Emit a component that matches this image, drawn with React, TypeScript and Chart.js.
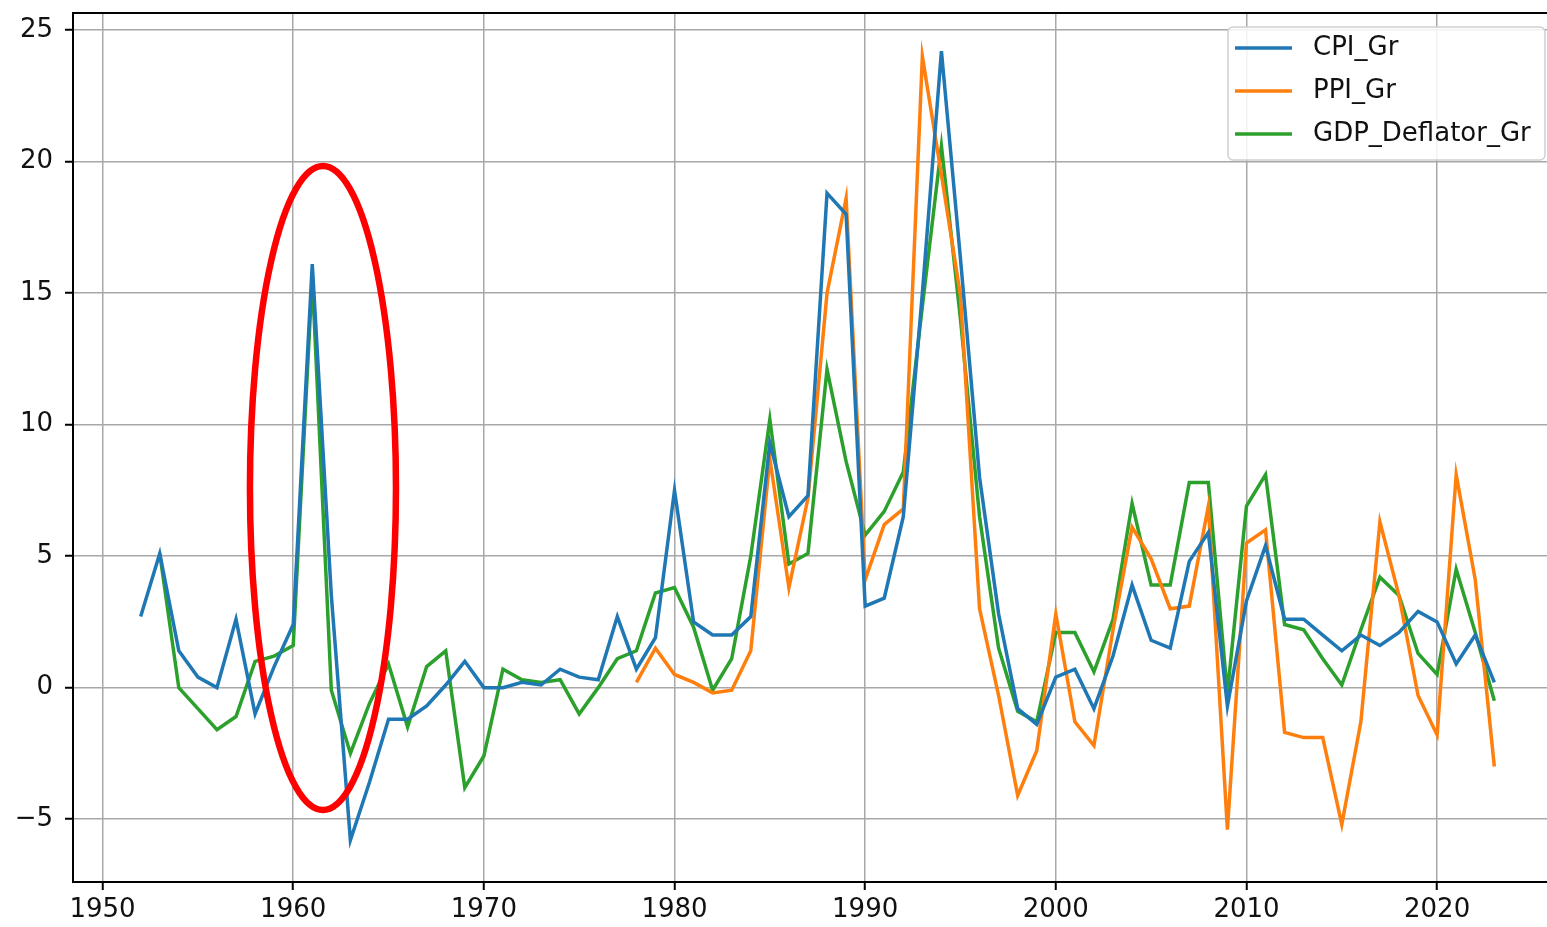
import React, { useEffect, useRef } from 'react';
import { Chart, registerables } from 'chart.js';

Chart.register(...registerables);

// ---------- data ----------
const YEARS = [
  1952, 1953, 1954, 1955, 1956, 1957, 1958, 1959, 1960, 1961,
  1962, 1963, 1964, 1965, 1966, 1967, 1968, 1969, 1970, 1971,
  1972, 1973, 1974, 1975, 1976, 1977, 1978, 1979, 1980, 1981,
  1982, 1983, 1984, 1985, 1986, 1987, 1988, 1989, 1990, 1991,
  1992, 1993, 1994, 1995, 1996, 1997, 1998, 1999, 2000, 2001,
  2002, 2003, 2004, 2005, 2006, 2007, 2008, 2009, 2010, 2011,
  2012, 2013, 2014, 2015, 2016, 2017, 2018, 2019, 2020, 2021,
  2022, 2023,
];

const CPI_GR = [
  2.7, 5.1, 1.4, 0.4, 0.0, 2.6, -1.0, 0.8, 2.4, 16.1,
  3.5, -5.8, -3.6, -1.2, -1.2, -0.7, 0.1, 1.0, 0.0, 0.0,
  0.2, 0.1, 0.7, 0.4, 0.3, 2.7, 0.7, 1.9, 7.5, 2.5,
  2.0, 2.0, 2.7, 9.3, 6.5, 7.3, 18.8, 18.0, 3.1, 3.4,
  6.5, 15.0, 24.2, 16.3, 8.0, 2.8, -0.8, -1.4, 0.4, 0.7,
  -0.8, 1.2, 3.9, 1.8, 1.5, 4.8, 5.9, -0.7, 3.3, 5.4,
  2.6, 2.6, 2.0, 1.4, 2.0, 1.6, 2.1, 2.9, 2.5, 0.9,
  2.0, 0.2,
];

const PPI_GR = [
  null, null, null, null, null, null, null, null, null, null,
  null, null, null, null, null, null, null, null, null, null,
  null, null, null, null, null, null, 0.2, 1.5, 0.5, 0.2,
  -0.2, -0.1, 1.4, 8.7, 3.8, 7.2, 15.0, 18.6, 4.1, 6.2,
  6.8, 24.0, 19.5, 14.9, 3.0, -0.3, -4.1, -2.4, 2.8, -1.3,
  -2.2, 2.2, 6.1, 4.9, 3.0, 3.1, 6.9, -5.4, 5.5, 6.0,
  -1.7, -1.9, -1.9, -5.2, -1.3, 6.3, 3.5, -0.3, -1.8, 8.1,
  4.1, -3.0,
];

const GDP_DEFLATOR_GR = [
  null, 5.1, 0.0, -0.8, -1.6, -1.1, 1.0, 1.2, 1.6, 15.6,
  -0.1, -2.5, -0.6, 0.9, -1.5, 0.8, 1.4, -3.8, -2.6, 0.7,
  0.3, 0.2, 0.3, -1.0, 0.0, 1.1, 1.4, 3.6, 3.8, 2.3,
  -0.1, 1.1, 5.0, 10.2, 4.7, 5.1, 12.1, 8.6, 5.8, 6.7,
  8.2, 14.5, 20.6, 14.0, 6.5, 1.5, -0.9, -1.3, 2.1, 2.1,
  0.6, 2.6, 7.0, 3.9, 3.9, 7.8, 7.8, -0.2, 6.9, 8.1,
  2.4, 2.2, 1.1, 0.1, 2.2, 4.2, 3.5, 1.3, 0.5, 4.5,
  2.1, -0.5,
];

const SERIES_NAMES = ['CPI_Gr', 'PPI_Gr', 'GDP_Deflator_Gr'];
const SERIES_COLORS = ['#1f77b4', '#ff7f0e', '#2ca02c'];

const X_TICKS = [1950, 1960, 1970, 1980, 1990, 2000, 2010, 2020];
const Y_TICKS = [-5, 0, 5, 10, 15, 20, 25];
const X_MIN = 1948.45;
const X_MAX = 2026.55;
const Y_MIN = -7.39;
const Y_MAX = 25.65;

// red highlight ellipse (data units)
const ELLIPSE_CENTER_YEAR = 1961.56;
const ELLIPSE_CENTER_VALUE = 7.59;
const ELLIPSE_RADIUS_YEARS = 3.83;
const ELLIPSE_RADIUS_VALUE = 12.24;

const FONT = "'DejaVu Sans', sans-serif";

const toPoints = (vals: (number | null)[]) =>
  YEARS.map((yr, i) => ({ x: yr, y: vals[i] }));

const spinesPlugin = {
  id: 'spines',
  afterDatasetsDraw(chart: any) {
    const { ctx, chartArea } = chart;
    ctx.save();
    ctx.strokeStyle = '#000';
    ctx.lineWidth = 2;
    ctx.strokeRect(chartArea.left, chartArea.top, chartArea.right - chartArea.left, chartArea.bottom - chartArea.top);
    ctx.restore();
  },
};

const legendPlugin = {
  id: 'mplLegend',
  afterDraw(chart: any) {
    const { ctx, chartArea } = chart;
    const w = 317;
    const h = 133;
    const x = chartArea.right - 17 - w;
    const y = chartArea.top + 14;
    ctx.save();
    ctx.beginPath();
    ctx.roundRect(x, y, w, h, 5);
    ctx.fillStyle = 'rgba(255,255,255,0.85)';
    ctx.fill();
    ctx.strokeStyle = '#d0d0d0';
    ctx.lineWidth = 1.5;
    ctx.stroke();
    chart.data.datasets.forEach((ds: any, i: number) => {
      const cy = y + 21 + i * 43;
      ctx.beginPath();
      ctx.moveTo(x + 7, cy);
      ctx.lineTo(x + 64, cy);
      ctx.strokeStyle = ds.borderColor;
      ctx.lineWidth = 3.5;
      ctx.stroke();
      ctx.fillStyle = '#111';
      ctx.font = `26px ${FONT}`;
      ctx.textBaseline = 'middle';
      ctx.textAlign = 'left';
      ctx.fillText(ds.label, x + 85, cy);
    });
    ctx.restore();
  },
};

const ellipsePlugin = {
  id: 'highlightEllipse',
  afterDraw(chart: any) {
    const { ctx } = chart;
    const xs = chart.scales.x;
    const ys = chart.scales.y;
    const cx = xs.getPixelForValue(ELLIPSE_CENTER_YEAR);
    const cy = ys.getPixelForValue(ELLIPSE_CENTER_VALUE);
    const rx = Math.abs(xs.getPixelForValue(ELLIPSE_CENTER_YEAR + ELLIPSE_RADIUS_YEARS) - cx);
    const ry = Math.abs(ys.getPixelForValue(ELLIPSE_CENTER_VALUE + ELLIPSE_RADIUS_VALUE) - cy);
    ctx.save();
    ctx.beginPath();
    ctx.ellipse(cx, cy, rx, ry, 0, 0, Math.PI * 2);
    ctx.strokeStyle = '#ff0000';
    ctx.lineWidth = 6.5;
    ctx.stroke();
    ctx.restore();
  },
};

export default function App() {
  const canvasRef = useRef<HTMLCanvasElement | null>(null);

  useEffect(() => {
    if (!canvasRef.current) return;
    Chart.defaults.font.family = FONT;
    Chart.defaults.color = '#111';
    const seriesValues = [CPI_GR, PPI_GR, GDP_DEFLATOR_GR];
    const chart = new Chart(canvasRef.current, {
      type: 'line',
      data: {
        datasets: SERIES_NAMES.map((name, i) => ({
          label: name,
          data: toPoints(seriesValues[i]),
          borderColor: SERIES_COLORS[i],
          backgroundColor: SERIES_COLORS[i],
          borderWidth: 3.5,
          pointRadius: 0,
          tension: 0,
          spanGaps: false,
        })),
      },
      options: {
        responsive: false,
        animation: false,
        layout: { padding: { top: 13, right: 8, left: 0, bottom: 0 } },
        plugins: {
          legend: { display: false },
          tooltip: { enabled: false },
        },
        scales: {
          x: {
            type: 'linear',
            min: X_MIN,
            max: X_MAX,
            afterBuildTicks: (s: any) => {
              s.ticks = X_TICKS.map((v) => ({ value: v }));
            },
            afterFit: (s: any) => {
              s.height = 45;
              s.paddingLeft = 0;
              s.paddingRight = 0;
            },
            grid: {
              color: '#a8a8a8',
              lineWidth: 1.5,
              tickLength: 8,
              tickColor: '#000',
              tickWidth: 2,
            },
            border: { display: false },
            ticks: {
              font: { size: 26 },
              padding: 5,
              maxRotation: 0,
              autoSkip: false,
              callback: (v: any) => String(v),
            },
          },
          y: {
            type: 'linear',
            min: Y_MIN,
            max: Y_MAX,
            afterBuildTicks: (s: any) => {
              s.ticks = Y_TICKS.map((v) => ({ value: v }));
            },
            afterFit: (s: any) => {
              s.width = 73;
              s.paddingTop = 0;
              s.paddingBottom = 0;
            },
            grid: {
              color: '#a8a8a8',
              lineWidth: 1.5,
              tickLength: 8,
              tickColor: '#000',
              tickWidth: 2,
            },
            border: { display: false },
            ticks: {
              font: { size: 26 },
              padding: 12,
              autoSkip: false,
              callback: (v: any) => (v < 0 ? '\u2212' + Math.abs(v) : String(v)),
            },
          },
        },
      },
      plugins: [spinesPlugin, legendPlugin, ellipsePlugin],
    } as any);
    return () => chart.destroy();
  }, []);

  return (
    <div
      style={{
        position: 'fixed',
        left: 0,
        top: 0,
        width: 1547,
        height: 927,
        overflow: 'hidden',
        background: '#fff',
      }}
    >
      <canvas ref={canvasRef} width={1570} height={927} style={{ display: 'block' }} />
    </div>
  );
}
